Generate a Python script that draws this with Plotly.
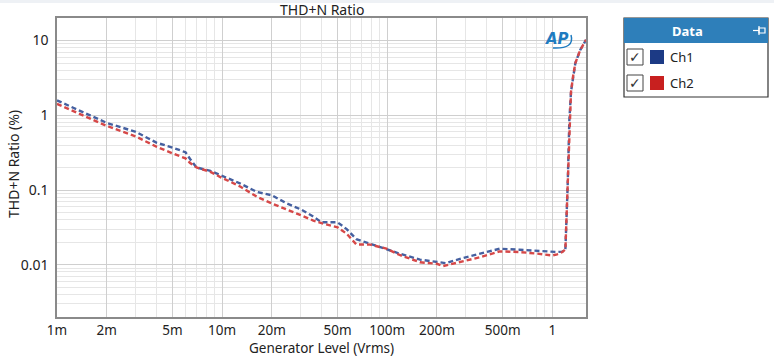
import plotly.graph_objects as go

# ---- data ----
gen_level_v = [0.001, 0.0015, 0.002, 0.003, 0.004, 0.005, 0.006, 0.0064, 0.007, 0.0085,
               0.0097, 0.0128, 0.0163, 0.02, 0.0247, 0.03, 0.0357, 0.04, 0.05, 0.0568,
               0.065, 0.079, 0.099, 0.12, 0.158, 0.2, 0.218, 0.227, 0.276, 0.364,
               0.48, 0.632, 0.832, 1.0, 1.07, 1.15, 1.2, 1.238, 1.268, 1.298,
               1.335, 1.379, 1.478, 1.6]
ch1_thdn = [1.58, 1.05, 0.79, 0.6, 0.43, 0.37, 0.32, 0.26, 0.2, 0.18,
            0.16, 0.123, 0.094, 0.085, 0.066, 0.055, 0.044, 0.037, 0.037, 0.030,
            0.022, 0.019, 0.0164, 0.014, 0.0117, 0.0108, 0.0106, 0.0105, 0.012, 0.014,
            0.0164, 0.0159, 0.0152, 0.015, 0.0148, 0.015, 0.016, 0.11, 0.86, 2.07,
            3.3, 5.0, 7.5, 10.2]
ch2_thdn = [1.42, 0.95, 0.72, 0.52, 0.38, 0.31, 0.265, 0.23, 0.2, 0.175,
            0.15, 0.112, 0.081, 0.066, 0.055, 0.046, 0.039, 0.036, 0.0317, 0.026,
            0.0187, 0.0186, 0.0164, 0.0134, 0.0108, 0.0103, 0.0096, 0.0098, 0.0108, 0.0126,
            0.0151, 0.0148, 0.014, 0.0133, 0.0138, 0.0148, 0.016, 0.11, 0.86, 2.07,
            3.3, 5.0, 7.5, 10.2]

x_tick_vals = [0.001, 0.002, 0.005, 0.01, 0.02, 0.05, 0.1, 0.2, 0.5, 1]
x_tick_text = ["1m", "2m", "5m", "10m", "20m", "50m", "100m", "200m", "500m", "1"]
y_tick_vals = [0.01, 0.1, 1, 10]
y_tick_text = ["0.01", "0.1", "1", "10"]
series_names = ["Ch1", "Ch2"]
line_colors = ["#4560a0", "#d64848"]
legend_colors = ["#1c3a85", "#c8201f"]
chart_title = "THD+N Ratio"
x_title = "Generator Level (Vrms)"
y_title = "THD+N Ratio (%)"

x_minor = [m * 10.0 ** d for d in range(-3, 1) for m in (3, 4, 6, 7, 8, 9)]
y_minor = [m * 10.0 ** d for d in range(-3, 2) for m in (2, 3, 4, 5, 6, 7, 8, 9)]

FONT = "Noto Sans"
W, H = 774, 356
L, R, T, B = 57, 586, 18, 317

fig = go.Figure()
for name, ys, col in zip(series_names, [ch1_thdn, ch2_thdn], line_colors):
    fig.add_trace(go.Scatter(x=gen_level_v, y=ys, mode="lines", name=name,
                             line=dict(color=col, width=2.4, dash="5px,3px"),
                             showlegend=False))

fig.update_layout(
    width=W, height=H,
    margin=dict(l=L, r=W - R, t=T, b=H - B, autoexpand=False),
    paper_bgcolor="white", plot_bgcolor="white",
    font=dict(family=FONT, size=14, color="#222"),
)
fig.update_xaxes(
    type="log", range=[-3, 0.204], automargin=False,
    tickmode="array", tickvals=x_tick_vals, ticktext=x_tick_text,
    showgrid=True, gridcolor="#cfcfcf", gridwidth=1,
    minor=dict(tickmode="array", tickvals=x_minor, showgrid=True, gridcolor="#e6e6e6", gridwidth=1),
    showline=True, mirror=True, linecolor="#8a8a8a", linewidth=1.5,
    ticks="", zeroline=False, ticklabelstandoff=0,
    tickfont=dict(size=13.5),
)
fig.update_yaxes(
    type="log", range=[-2.699, 1.301], automargin=False,
    tickmode="array", tickvals=y_tick_vals, ticktext=y_tick_text,
    showgrid=True, gridcolor="#cfcfcf", gridwidth=1,
    minor=dict(tickmode="array", tickvals=y_minor, showgrid=True, gridcolor="#e6e6e6", gridwidth=1),
    showline=True, mirror=True, linecolor="#8a8a8a", linewidth=1.5,
    ticks="", zeroline=False, ticklabelstandoff=4,
    tickfont=dict(size=14),
)

# helpers converting pixel positions to paper coords for decorations
def px(x):
    return (x - L) / (R - L)

def py(y):
    return (B - y) / (B - T)

shapes = []
annotations = []
# titles
annotations.append(dict(xref="paper", yref="paper", x=px((L + R) / 2), y=py(9), text=chart_title,
                        showarrow=False, font=dict(size=14, color="#222"), xanchor="center", yanchor="middle"))
annotations.append(dict(xref="paper", yref="paper", x=px((L + R) / 2), y=py(347.5), text=x_title,
                        showarrow=False, font=dict(size=13.5, color="#222"), xanchor="center", yanchor="middle"))
annotations.append(dict(xref="paper", yref="paper", x=px(13), y=py(164), text=y_title, textangle=-90,
                        showarrow=False, font=dict(size=14, color="#222"), xanchor="center", yanchor="middle"))
# faint top band
shapes.append(dict(type="rect", xref="paper", yref="paper", x0=px(0), x1=px(W), y0=py(0), y1=py(3),
                   fillcolor="#eef1f5", line=dict(width=0), layer="below"))
# legend panel
lx0, lx1, ly0, ly1, lh = 624, 768, 18, 97, 43
shapes.append(dict(type="rect", xref="paper", yref="paper", x0=px(lx0), x1=px(lx1), y0=py(ly1), y1=py(ly0),
                   fillcolor="white", line=dict(color="#333", width=1.2)))
shapes.append(dict(type="rect", xref="paper", yref="paper", x0=px(lx0), x1=px(lx1), y0=py(lh), y1=py(ly0),
                   fillcolor="#2e7fba", line=dict(width=0)))
annotations.append(dict(xref="paper", yref="paper", x=px(687), y=py(31), text="<b>Data</b>", showarrow=False,
                        font=dict(size=13, color="white", family=FONT), xanchor="center", yanchor="middle"))
# pin icon
shapes.append(dict(type="line", xref="paper", yref="paper", x0=px(753), x1=px(759), y0=py(30.5), y1=py(30.5),
                   line=dict(color="white", width=1.2)))
shapes.append(dict(type="rect", xref="paper", yref="paper", x0=px(759), x1=px(765), y0=py(33), y1=py(28),
                   fillcolor="rgba(0,0,0,0)", line=dict(color="white", width=1.2)))
shapes.append(dict(type="line", xref="paper", yref="paper", x0=px(759), x1=px(759), y0=py(35), y1=py(26),
                   line=dict(color="white", width=1.2)))
for i, (name, col) in enumerate(zip(series_names, legend_colors)):
    cy = 57 + 26 * i
    shapes.append(dict(type="rect", xref="paper", yref="paper", x0=px(627), x1=px(643), y0=py(cy + 8), y1=py(cy - 8),
                       fillcolor="white", line=dict(color="#444", width=1)))
    annotations.append(dict(xref="paper", yref="paper", x=px(635), y=py(cy), text="✓", showarrow=False,
                            font=dict(size=14, color="#333", family="DejaVu Sans"), xanchor="center", yanchor="middle"))
    shapes.append(dict(type="rect", xref="paper", yref="paper", x0=px(650), x1=px(664), y0=py(cy + 7), y1=py(cy - 7),
                       fillcolor=col, line=dict(width=0)))
    annotations.append(dict(xref="paper", yref="paper", x=px(668), y=py(cy), text=name, showarrow=False,
                            font=dict(size=13, color="#222", family=FONT), xanchor="left", yanchor="middle"))
# AP logo
annotations.append(dict(xref="paper", yref="paper", x=px(557), y=py(39), text="<b><i>AP</i></b>", showarrow=False,
                        font=dict(size=15, color="#1e7bc0", family="DejaVu Sans"), xanchor="center", yanchor="middle"))
shapes.append(dict(type="path", xref="paper", yref="paper",
                   path=f"M {px(553)},{py(48)} Q {px(575)},{py(49)} {px(571)},{py(35)}",
                   line=dict(color="#1e7bc0", width=1.5)))
fig.update_layout(shapes=shapes, annotations=annotations)

fig.write_html("out.html", config={"displayModeBar": False},
               post_script="document.body.style.margin='0';document.body.style.padding='0';")
